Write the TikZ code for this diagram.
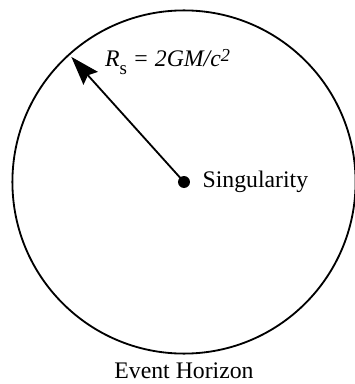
\documentclass[tikz,border=0pt]{standalone}
\usepackage{fontspec}
\setmainfont{Liberation Serif}
\usetikzlibrary{positioning,arrows.meta}
\tikzset{
    horizonring/.style={draw, circle, line width=1.3pt, minimum size=8.58cm, inner sep=0pt},
    singdotstyle/.style={circle, fill=black, minimum size=0.3cm, inner sep=0pt},
    bhlabel/.style={inner sep=0pt, font=\fontsize{16.9}{20}\selectfont},
    radiusarrow/.style={draw, line width=1.3pt, -{Stealth[length=0.72cm, width=0.48cm, inset=0.1cm]}}
}
\newcommand{\bhsub}[1]{\raisebox{-0.19cm}{\fontsize{13.5}{16}\selectfont #1}}
\newcommand{\bhsup}[1]{\raisebox{0.13cm}{\fontsize{13}{15}\selectfont #1}}

\begin{document}
\begin{tikzpicture}
    \useasboundingbox (0,0) rectangle (8.85,9.6);
    \node[singdotstyle] (singdot) at (4.6,5.05) {};
    \node[horizonring] (horizon) at (singdot.center) {};
    \node[bhlabel, right=0.3cm of singdot] (singlabel) {Singularity};
    \node[bhlabel, below=0.2cm of horizon] (horizonlabel) {Event Horizon};
    \path (singdot.center) ++(132:4.21) coordinate (rim);
    \node[bhlabel, anchor=base west] (radiuslabel) at (2.62,7.93) {\textit{R}\bhsub{s} \textit{= 2GM/c\bhsup{2}}};

    \draw[radiusarrow] (singdot.center) -- (rim);
\end{tikzpicture}
\end{document}
